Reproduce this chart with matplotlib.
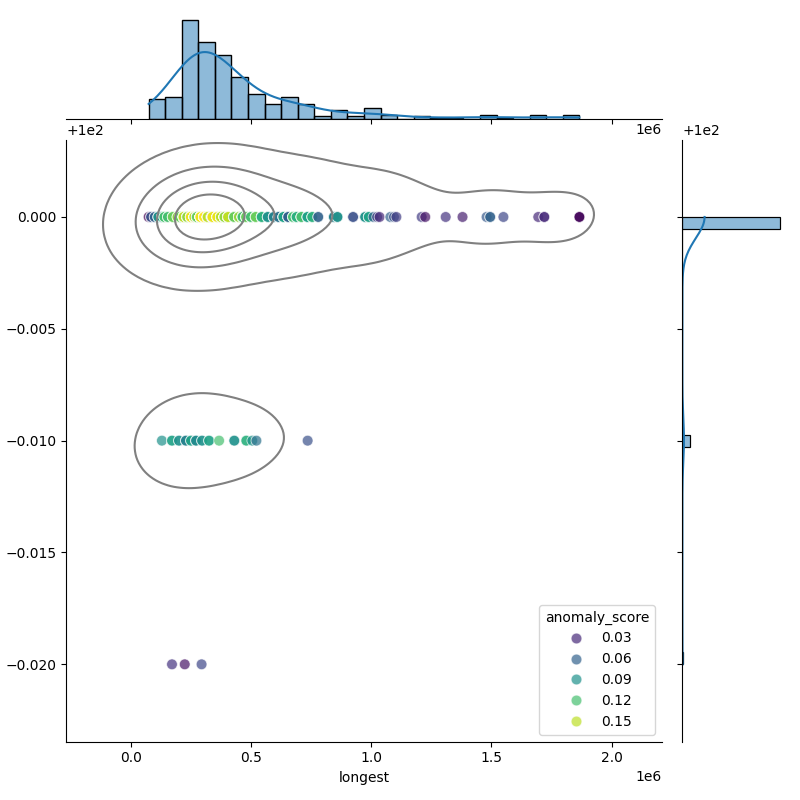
import matplotlib
matplotlib.use('Agg')
import matplotlib.pyplot as plt
import numpy as np
import pandas as pd
import seaborn as sns

# identity = 100.00 : longest (in 1e6), number of rows, anomaly score
longest_100 = [0.075, 0.085, 0.10, 0.115, 0.13, 0.14,
               0.155, 0.175, 0.195, 0.205,
               0.22, 0.235, 0.25, 0.265, 0.275,
               0.29, 0.305, 0.32, 0.335, 0.34,
               0.36, 0.375, 0.39, 0.405,
               0.43, 0.45, 0.465, 0.48,
               0.50, 0.52, 0.545,
               0.57, 0.595, 0.615,
               0.635, 0.655, 0.675, 0.69,
               0.71, 0.735, 0.755,
               0.78, 0.845, 0.86, 0.925,
               0.975, 0.99, 1.01, 1.025, 1.035,
               1.08, 1.095, 1.105,
               1.21, 1.225, 1.31, 1.38,
               1.48, 1.495, 1.55, 1.695, 1.72, 1.866]
rows_100 = [1, 2, 2, 3, 4, 3,
            3, 4, 3, 3,
            13, 14, 15, 15, 15,
            14, 12, 12, 1, 19,
            12, 13, 13, 13,
            8, 8, 7, 7,
            6, 6, 6,
            4, 4, 4,
            5, 5, 4, 4,
            4, 4, 3,
            2, 4, 3, 2,
            3, 3, 1, 1, 1,
            1, 1, 1,
            1, 1, 1, 1,
            1, 2, 1, 1, 2, 3]
score_100 = [0.012, 0.05, 0.06, 0.09, 0.10, 0.12,
             0.12, 0.13, 0.14, 0.13,
             0.15, 0.14, 0.16, 0.15, 0.13,
             0.16, 0.165, 0.15, 0.04, 0.16,
             0.16, 0.15, 0.14, 0.15,
             0.13, 0.14, 0.12, 0.13,
             0.12, 0.13, 0.11,
             0.09, 0.08, 0.07,
             0.10, 0.06, 0.12, 0.11,
             0.12, 0.10, 0.11,
             0.06, 0.08, 0.09, 0.05,
             0.09, 0.10, 0.06, 0.04, 0.03,
             0.06, 0.05, 0.04,
             0.04, 0.02, 0.035, 0.025,
             0.055, 0.06, 0.045, 0.03, 0.03, 0.015]

# identity = 99.99
longest_9999 = [0.130, 0.172, 0.201, 0.230, 0.251, 0.272, 0.297,
                0.326, 0.368, 0.431, 0.481, 0.506, 0.523, 0.736]
rows_9999 = [1, 2, 2, 3, 2, 3, 2, 2, 1, 2, 2, 1, 1, 1]
score_9999 = [0.09, 0.10, 0.09, 0.08, 0.10, 0.085, 0.09,
              0.10, 0.12, 0.09, 0.11, 0.09, 0.07, 0.05]

# identity = 99.98
longest_9998 = [0.172, 0.225, 0.295]
rows_9998 = [1, 1, 1]
score_9998 = [0.035, 0.02, 0.045]

identity_levels = [100.0, 99.99, 99.98]

frames = []
for ident, xs, ns, sc in zip(identity_levels,
                             [longest_100, longest_9999, longest_9998],
                             [rows_100, rows_9999, rows_9998],
                             [score_100, score_9999, score_9998]):
    frames.append(pd.DataFrame({
        'longest': np.repeat(np.array(xs) * 1e6, ns),
        'identity': ident,
        'anomaly_score': np.repeat(sc, ns),
    }))
df = pd.concat(frames, ignore_index=True)

g = sns.JointGrid(data=df, x='longest', y='identity', height=8)
sns.scatterplot(data=df, x='longest', y='identity', hue='anomaly_score',
                palette='viridis', alpha=0.7, s=60, ax=g.ax_joint)
sns.kdeplot(data=df, x='longest', y='identity', color='gray', levels=5,
            ax=g.ax_joint)
sns.histplot(data=df, x='longest', bins=26, kde=True, ax=g.ax_marg_x)
sns.histplot(data=df, y='identity', bins=37, kde=True, ax=g.ax_marg_y)

plt.savefig('out.png', dpi=100)
